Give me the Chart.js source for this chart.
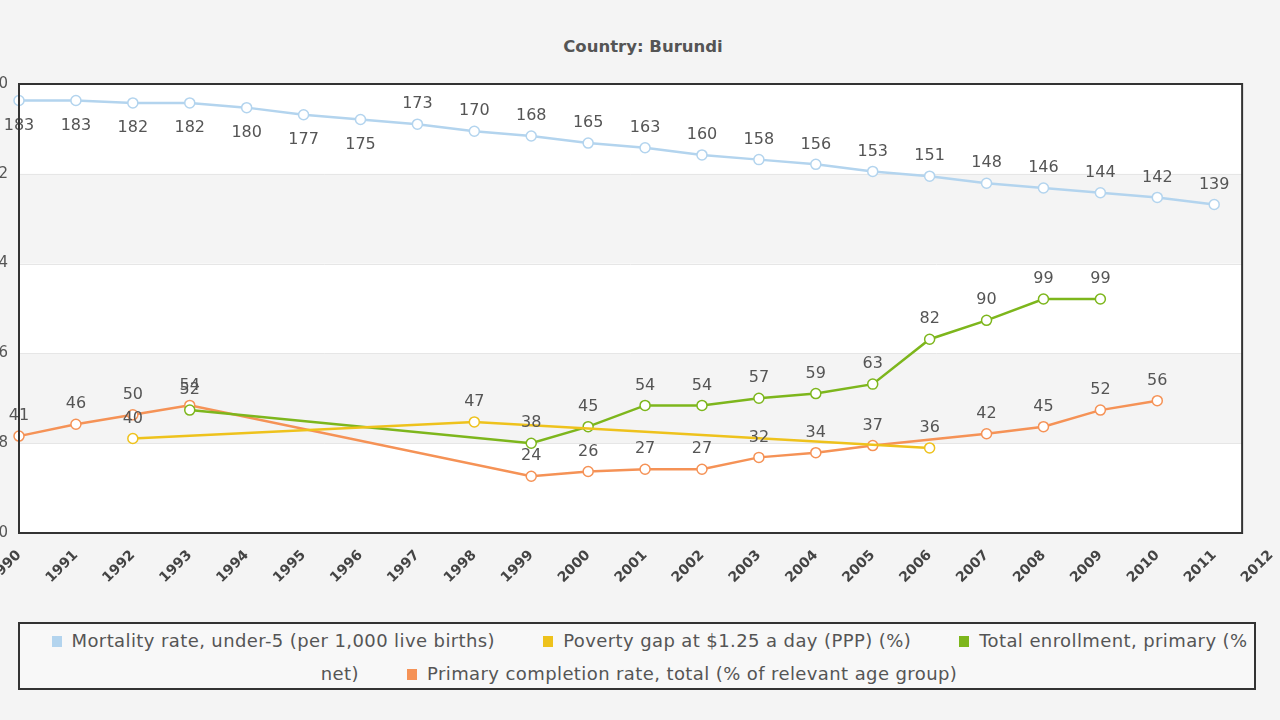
<!DOCTYPE html>
<html>
<head>
<meta charset="utf-8">
<script src="https://cdn.jsdelivr.net/npm/chart.js@4/dist/chart.umd.min.js"></script>
<style>
  body { margin: 0; background: #f4f4f4; width: 1280px; height: 720px; overflow: hidden; position: relative; font-family: "DejaVu Sans", Verdana, sans-serif; }
  #title { position: absolute; top: 37px; left: 3px; width: 1280px; text-align: center; font-size: 16.5px; font-weight: bold; color: #555; }
  #wrap { position: absolute; top: 64px; left: -21px; width: 1310px; height: 539px; }
  #legend { position: absolute; top: 622px; left: 18px; width: 1230px; height: 64px; padding-left: 4px; border: 2px solid #333; background: #f8f8f8;
            box-sizing: content-box; text-align: center; font-size: 18px; letter-spacing: 0.4px; line-height: 33px; color: #555; }
  #legend span.item { margin: 0 21px; }
  #legend span.item:last-child { margin-right: 0; }
  #legend i { display: inline-block; width: 10px; height: 11px; margin-right: 10px; vertical-align: 0px; }
</style>
</head>
<body>
<div id="title">Country: Burundi</div>
<div id="wrap"><canvas id="chartCanvas"></canvas></div>
<div id="legend"></div>
<script>
  const years = ['1990','1991','1992','1993','1994','1995','1996','1997','1998','1999','2000','2001',
                 '2002','2003','2004','2005','2006','2007','2008','2009','2010','2011','2012'];
  const mortality = [183,183,182,182,180,177,175,173,170,168,165,163,160,158,156,153,151,148,146,144,142,139,null];
  const poverty = [null,null,40,null,null,null,null,null,47,null,null,null,null,null,null,null,36,null,null,null,null,null,null];
  const enrollment = [null,null,null,52,null,null,null,null,null,38,45,54,54,57,59,63,82,90,99,99,null,null,null];
  const completion = [41,46,50,54,null,null,null,null,null,24,26,27,27,32,34,37,null,42,45,52,56,null,null];
  const yTicks = [0,38,76,114,152,190];

  const series = [
    { label: 'Mortality rate, under-5 (per 1,000 live births)', data: mortality, color: '#b3d4ee' },
    { label: 'Poverty gap at $1.25 a day (PPP) (%)', data: poverty, color: '#eec21c' },
    { label: 'Total enrollment, primary (% net)', data: enrollment, color: '#7db61c' },
    { label: 'Primary completion rate, total (% of relevant age group)', data: completion, color: '#f59256' }
  ];

  // the frame stops short of the last category
  const frameRight = a => a.right - 29;

  const bandsPlugin = {
    id: 'bands',
    beforeDatasetsDraw(chart) {
      const { ctx, chartArea: a, scales: { y } } = chart;
      const r = frameRight(a);
      ctx.save();
      ctx.fillStyle = '#ffffff';
      ctx.fillRect(a.left, a.top, r - a.left, a.bottom - a.top);
      ctx.fillStyle = '#f4f4f4';
      [[38, 76], [114, 152]].forEach(([lo, hi]) => {
        const t = y.getPixelForValue(hi), b = y.getPixelForValue(lo);
        ctx.fillRect(a.left, t, r - a.left, b - t);
      });
      ctx.strokeStyle = '#e6e6e6';
      ctx.lineWidth = 1;
      yTicks.forEach(v => {
        const p = Math.round(y.getPixelForValue(v)) + 0.5;
        ctx.beginPath(); ctx.moveTo(a.left, p); ctx.lineTo(r, p); ctx.stroke();
      });
      ctx.restore();
    },
    afterDraw(chart) {
      const { ctx, chartArea: a } = chart;
      ctx.save();
      ctx.strokeStyle = '#333';
      ctx.lineWidth = 2;
      ctx.strokeRect(a.left, a.top, frameRight(a) - a.left, a.bottom - a.top);
      ctx.restore();
    }
  };

  const labelsPlugin = {
    id: 'valueLabels',
    afterDatasetsDraw(chart) {
      const { ctx, chartArea: a } = chart;
      ctx.save();
      ctx.font = '16px "DejaVu Sans", Verdana, sans-serif';
      ctx.fillStyle = '#555';
      ctx.textAlign = 'center';
      ctx.textBaseline = 'middle';
      chart.data.datasets.forEach((ds, i) => {
        const meta = chart.getDatasetMeta(i);
        meta.data.forEach((pt, j) => {
          if (ds.data[j] == null) return;
          const below = pt.y - a.top < 38;
          ctx.fillText(ds.data[j], pt.x, below ? pt.y + 25 : pt.y - 20);
        });
      });
      ctx.restore();
    }
  };

  const ctx = document.getElementById('chartCanvas').getContext('2d');
  const chart = new Chart(ctx, {
    type: 'line',
    data: {
      labels: years,
      datasets: series.map(s => ({
        label: s.label,
        data: s.data,
        borderColor: s.color,
        backgroundColor: '#ffffff',
        pointBorderColor: s.color,
        pointBackgroundColor: '#ffffff',
        pointRadius: 5,
        pointBorderWidth: 1.5,
        borderWidth: 2.5,
        spanGaps: true,
        tension: 0,
        clip: false
      }))
    },
    options: {
      responsive: true,
      maintainAspectRatio: false,
      animation: false,
      layout: { padding: { top: 0, right: 0, left: 0, bottom: 0 } },
      plugins: {
        legend: { display: false },
        tooltip: { enabled: false }
      },
      scales: {
        x: {
          offset: false,
          grid: { display: false },
          border: { display: false },
          afterFit: s => { s.height = 70; },
          ticks: {
            color: '#444',
            font: { size: 14, weight: 'bold', family: '"DejaVu Sans", Verdana, sans-serif' },
            minRotation: 45, maxRotation: 45, autoSkip: false, padding: 6
          }
        },
        y: {
          min: 0, max: 190,
          afterBuildTicks: s => { s.ticks = yTicks.map(v => ({ value: v })); },
          afterFit: s => { s.width = 40; },
          grid: { display: false, drawTicks: false },
          border: { display: false },
          ticks: {
            color: '#555',
            font: { size: 15, family: '"DejaVu Sans", Verdana, sans-serif' },
            padding: 11
          }
        }
      }
    },
    plugins: [bandsPlugin, labelsPlugin]
  });

  const legend = document.getElementById('legend');
  legend.innerHTML = series.map(s =>
    `<span class="item"><i style="background:${s.color}"></i>${s.label}</span>`).join(' ');
</script>
</body>
</html>
